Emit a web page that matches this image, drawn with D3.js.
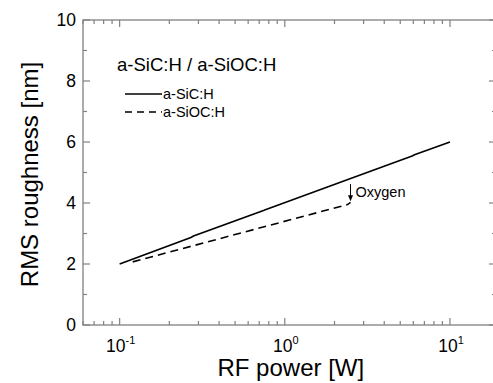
<!DOCTYPE html>
<html>
<head>
<meta charset="utf-8">
<script src="https://cdn.jsdelivr.net/npm/d3@7"></script>
<style>
  body { margin: 0; background: #fff; }
  text { font-family: "Liberation Sans", Arial, sans-serif; fill: #000; }
</style>
</head>
<body>
<div id="chart"></div>
<script>
"use strict";

// data
const sicPower = [0.1, 0.27, 0.28, 0.75, 0.77, 2.05, 2.15, 5.9, 6.1, 10];
const sicRough = [2.0, 2.87, 2.92, 3.76, 3.79, 4.63, 4.67, 5.54, 5.58, 6.0];
const siocPower = [0.12, 2.4, 2.5];
const siocRough = [2.07, 3.95, 4.02];
const seriesNames = ["a-SiC:H", "a-SiOC:H"];
const yTicks = [0, 2, 4, 6, 8, 10];
const yMinor = [1, 3, 5, 7, 9];
const xDecades = [0.1, 1, 10];
const xDecadeExp = ["-1", "0", "1"];
const xMinor = [0.06, 0.07, 0.08, 0.09, 0.2, 0.3, 0.4, 0.5, 0.6, 0.7, 0.8, 0.9,
    2, 3, 4, 5, 6, 7, 8, 9];
const oxygenAt = 2.5, oxygenFrom = 4.62, oxygenTo = 4.06;

const W = 493, H = 383;
const margin = { top: 20, right: -3, bottom: 58, left: 83 },
    width = W - margin.left - margin.right,
    height = H - margin.top - margin.bottom;

const svg = d3.select("#chart").append("svg")
    .attr("width", W)
    .attr("height", H);

const g = svg.append("g")
    .attr("transform", "translate(" + margin.left + "," + margin.top + ")");

const x = d3.scaleLog().domain([0.06, 19]).range([0, width]);
const y = d3.scaleLinear().domain([0, 10]).range([height, 0]);

const axisColor = "#808080";

// frame
g.append("rect")
    .attr("width", width).attr("height", height)
    .attr("fill", "none")
    .attr("stroke", axisColor)
    .attr("stroke-width", 1.3);

// ticks, all pointing inward
function xTicks(vals, len) {
    vals.forEach(function (v) {
        g.append("line").attr("x1", x(v)).attr("x2", x(v))
            .attr("y1", height).attr("y2", height - len)
            .attr("stroke", axisColor).attr("stroke-width", 1.2);
        g.append("line").attr("x1", x(v)).attr("x2", x(v))
            .attr("y1", 0).attr("y2", len)
            .attr("stroke", axisColor).attr("stroke-width", 1.2);
    });
}
function yTickMarks(vals, len) {
    vals.forEach(function (v) {
        g.append("line").attr("x1", 0).attr("x2", len)
            .attr("y1", y(v)).attr("y2", y(v))
            .attr("stroke", axisColor).attr("stroke-width", 1.2);
        g.append("line").attr("x1", width).attr("x2", width - len)
            .attr("y1", y(v)).attr("y2", y(v))
            .attr("stroke", axisColor).attr("stroke-width", 1.2);
    });
}
xTicks(xDecades, 7);
xTicks(xMinor, 4);
yTickMarks(yTicks, 7);
yTickMarks(yMinor, 4);

// y tick labels
g.selectAll(".ylab").data(yTicks).enter().append("text")
    .attr("class", "ylab")
    .attr("x", -7)
    .attr("y", d => y(d) + 6)
    .attr("text-anchor", "end")
    .style("font-size", "17.5px")
    .text(d => d);

// x tick labels 10^n
xDecades.forEach(function (v, i) {
    const t = g.append("text")
        .attr("x", x(v) + 1)
        .attr("y", height + 26.5)
        .attr("text-anchor", "middle")
        .style("font-size", "17.5px");
    t.append("tspan").text("10");
    t.append("tspan").attr("dy", -8).style("font-size", "11px").text(xDecadeExp[i]);
});

// axis titles
g.append("text")
    .attr("x", x(1) + 6)
    .attr("y", height + 51)
    .attr("text-anchor", "middle")
    .style("font-size", "24px")
    .text("RF power [W]");

g.append("text")
    .attr("transform", "translate(-45," + (height / 2 + 2) + ") rotate(-90)")
    .attr("text-anchor", "middle")
    .style("font-size", "24px")
    .text("RMS roughness [nm]");

// lines
const line = d3.line().x(d => x(d[0])).y(d => y(d[1]));
const sicData = d3.zip(sicPower, sicRough);
const siocData = d3.zip(siocPower, siocRough);

g.append("path").datum(sicData)
    .attr("d", line)
    .attr("fill", "none")
    .attr("stroke", "#000")
    .attr("stroke-width", 1.6);

g.append("path").datum(siocData)
    .attr("d", line)
    .attr("fill", "none")
    .attr("stroke", "#000")
    .attr("stroke-width", 1.6)
    .attr("stroke-dasharray", "8,5");

// oxygen arrow
const ax = x(oxygenAt);
g.append("line")
    .attr("x1", ax).attr("x2", ax)
    .attr("y1", y(oxygenFrom)).attr("y2", y(oxygenTo) - 4)
    .attr("stroke", "#000").attr("stroke-width", 1);
g.append("path")
    .attr("d", "M" + (ax - 2.5) + "," + (y(oxygenTo) - 6) + "L" + (ax + 2.5) + "," +
        (y(oxygenTo) - 6) + "L" + ax + "," + y(oxygenTo) + "Z")
    .attr("fill", "#000");
g.append("text")
    .attr("x", ax + 5)
    .attr("y", y(oxygenFrom) + 13)
    .style("font-size", "14.5px")
    .text("Oxygen");

// title and legend
g.append("text")
    .attr("x", 34)
    .attr("y", 51)
    .style("font-size", "18.5px")
    .text("a-SiC:H / a-SiOC:H");

seriesNames.forEach(function (name, i) {
    const ly = 74 + i * 18;
    g.append("line")
        .attr("x1", 42).attr("x2", 79)
        .attr("y1", ly).attr("y2", ly)
        .attr("stroke", "#000")
        .attr("stroke-width", 1.6)
        .attr("stroke-dasharray", i === 1 ? "7,5" : null);
    g.append("text")
        .attr("x", 80)
        .attr("y", ly + 5)
        .style("font-size", "14.5px")
        .text(name);
});
</script>
</body>
</html>
